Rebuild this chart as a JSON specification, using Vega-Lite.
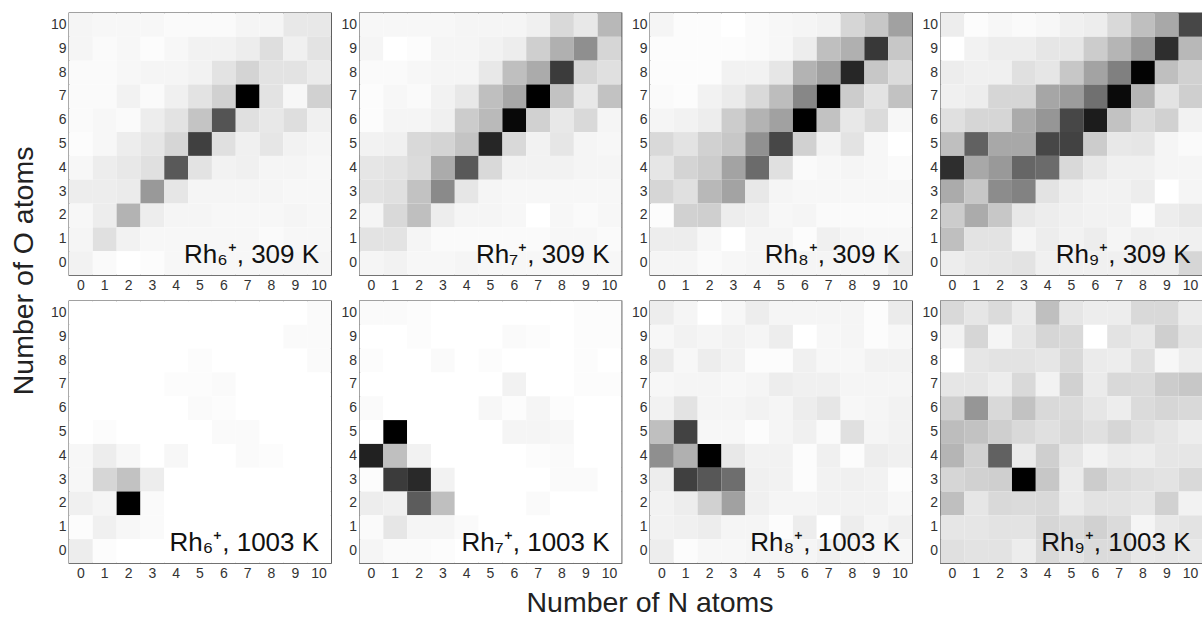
{
"$schema":"https://vega.github.io/schema/vega-lite/v6.json",
"padding":{"left":10,"top":12,"right":0,"bottom":0},
"background":"white",
"title":{"text":"Number of O atoms","orient":"left","anchor":"middle","dx":44,"offset":11,"font":"Liberation Sans","fontSize":28.5,"fontWeight":"normal","color":"#222"},
"data":{"values":[
{"R":"Rh6","T":"309 K","O":10,"N":0,"d":4},{"R":"Rh6","T":"309 K","O":10,"N":1,"d":3},{"R":"Rh6","T":"309 K","O":10,"N":2,"d":3},{"R":"Rh6","T":"309 K","O":10,"N":3,"d":3},{"R":"Rh6","T":"309 K","O":10,"N":4,"d":2},{"R":"Rh6","T":"309 K","O":10,"N":5,"d":2},{"R":"Rh6","T":"309 K","O":10,"N":6,"d":2},{"R":"Rh6","T":"309 K","O":10,"N":7,"d":4},{"R":"Rh6","T":"309 K","O":10,"N":8,"d":4},{"R":"Rh6","T":"309 K","O":10,"N":9,"d":9},{"R":"Rh6","T":"309 K","O":10,"N":10,"d":9},
{"R":"Rh6","T":"309 K","O":9,"N":0,"d":4},{"R":"Rh6","T":"309 K","O":9,"N":1,"d":2},{"R":"Rh6","T":"309 K","O":9,"N":2,"d":3},{"R":"Rh6","T":"309 K","O":9,"N":3,"d":1},{"R":"Rh6","T":"309 K","O":9,"N":4,"d":3},{"R":"Rh6","T":"309 K","O":9,"N":5,"d":5},{"R":"Rh6","T":"309 K","O":9,"N":6,"d":5},{"R":"Rh6","T":"309 K","O":9,"N":7,"d":7},{"R":"Rh6","T":"309 K","O":9,"N":8,"d":13},{"R":"Rh6","T":"309 K","O":9,"N":9,"d":6},{"R":"Rh6","T":"309 K","O":9,"N":10,"d":11},
{"R":"Rh6","T":"309 K","O":8,"N":0,"d":2},{"R":"Rh6","T":"309 K","O":8,"N":1,"d":2},{"R":"Rh6","T":"309 K","O":8,"N":2,"d":3},{"R":"Rh6","T":"309 K","O":8,"N":3,"d":4},{"R":"Rh6","T":"309 K","O":8,"N":4,"d":4},{"R":"Rh6","T":"309 K","O":8,"N":5,"d":5},{"R":"Rh6","T":"309 K","O":8,"N":6,"d":11},{"R":"Rh6","T":"309 K","O":8,"N":7,"d":17},{"R":"Rh6","T":"309 K","O":8,"N":8,"d":11},{"R":"Rh6","T":"309 K","O":8,"N":9,"d":11},{"R":"Rh6","T":"309 K","O":8,"N":10,"d":8},
{"R":"Rh6","T":"309 K","O":7,"N":0,"d":2},{"R":"Rh6","T":"309 K","O":7,"N":1,"d":2},{"R":"Rh6","T":"309 K","O":7,"N":2,"d":5},{"R":"Rh6","T":"309 K","O":7,"N":3,"d":2},{"R":"Rh6","T":"309 K","O":7,"N":4,"d":6},{"R":"Rh6","T":"309 K","O":7,"N":5,"d":11},{"R":"Rh6","T":"309 K","O":7,"N":6,"d":18},{"R":"Rh6","T":"309 K","O":7,"N":7,"d":100},{"R":"Rh6","T":"309 K","O":7,"N":8,"d":11},{"R":"Rh6","T":"309 K","O":7,"N":9,"d":3},{"R":"Rh6","T":"309 K","O":7,"N":10,"d":18},
{"R":"Rh6","T":"309 K","O":6,"N":0,"d":2},{"R":"Rh6","T":"309 K","O":6,"N":1,"d":3},{"R":"Rh6","T":"309 K","O":6,"N":2,"d":2},{"R":"Rh6","T":"309 K","O":6,"N":3,"d":7},{"R":"Rh6","T":"309 K","O":6,"N":4,"d":11},{"R":"Rh6","T":"309 K","O":6,"N":5,"d":23},{"R":"Rh6","T":"309 K","O":6,"N":6,"d":67},{"R":"Rh6","T":"309 K","O":6,"N":7,"d":12},{"R":"Rh6","T":"309 K","O":6,"N":8,"d":9},{"R":"Rh6","T":"309 K","O":6,"N":9,"d":13},{"R":"Rh6","T":"309 K","O":6,"N":10,"d":6},
{"R":"Rh6","T":"309 K","O":5,"N":0,"d":1},{"R":"Rh6","T":"309 K","O":5,"N":1,"d":3},{"R":"Rh6","T":"309 K","O":5,"N":2,"d":7},{"R":"Rh6","T":"309 K","O":5,"N":3,"d":10},{"R":"Rh6","T":"309 K","O":5,"N":4,"d":16},{"R":"Rh6","T":"309 K","O":5,"N":5,"d":75},{"R":"Rh6","T":"309 K","O":5,"N":6,"d":12},{"R":"Rh6","T":"309 K","O":5,"N":7,"d":6},{"R":"Rh6","T":"309 K","O":5,"N":8,"d":10},{"R":"Rh6","T":"309 K","O":5,"N":9,"d":5},{"R":"Rh6","T":"309 K","O":5,"N":10,"d":4},
{"R":"Rh6","T":"309 K","O":4,"N":0,"d":3},{"R":"Rh6","T":"309 K","O":4,"N":1,"d":7},{"R":"Rh6","T":"309 K","O":4,"N":2,"d":9},{"R":"Rh6","T":"309 K","O":4,"N":3,"d":12},{"R":"Rh6","T":"309 K","O":4,"N":4,"d":65},{"R":"Rh6","T":"309 K","O":4,"N":5,"d":11},{"R":"Rh6","T":"309 K","O":4,"N":6,"d":5},{"R":"Rh6","T":"309 K","O":4,"N":7,"d":6},{"R":"Rh6","T":"309 K","O":4,"N":8,"d":4},{"R":"Rh6","T":"309 K","O":4,"N":9,"d":4},{"R":"Rh6","T":"309 K","O":4,"N":10,"d":3},
{"R":"Rh6","T":"309 K","O":3,"N":0,"d":7},{"R":"Rh6","T":"309 K","O":3,"N":1,"d":7},{"R":"Rh6","T":"309 K","O":3,"N":2,"d":8},{"R":"Rh6","T":"309 K","O":3,"N":3,"d":40},{"R":"Rh6","T":"309 K","O":3,"N":4,"d":10},{"R":"Rh6","T":"309 K","O":3,"N":5,"d":4},{"R":"Rh6","T":"309 K","O":3,"N":6,"d":4},{"R":"Rh6","T":"309 K","O":3,"N":7,"d":4},{"R":"Rh6","T":"309 K","O":3,"N":8,"d":4},{"R":"Rh6","T":"309 K","O":3,"N":9,"d":3},{"R":"Rh6","T":"309 K","O":3,"N":10,"d":3},
{"R":"Rh6","T":"309 K","O":2,"N":0,"d":3},{"R":"Rh6","T":"309 K","O":2,"N":1,"d":7},{"R":"Rh6","T":"309 K","O":2,"N":2,"d":30},{"R":"Rh6","T":"309 K","O":2,"N":3,"d":7},{"R":"Rh6","T":"309 K","O":2,"N":4,"d":4},{"R":"Rh6","T":"309 K","O":2,"N":5,"d":4},{"R":"Rh6","T":"309 K","O":2,"N":6,"d":3},{"R":"Rh6","T":"309 K","O":2,"N":7,"d":3},{"R":"Rh6","T":"309 K","O":2,"N":8,"d":3},{"R":"Rh6","T":"309 K","O":2,"N":9,"d":4},{"R":"Rh6","T":"309 K","O":2,"N":10,"d":3},
{"R":"Rh6","T":"309 K","O":1,"N":0,"d":4},{"R":"Rh6","T":"309 K","O":1,"N":1,"d":12},{"R":"Rh6","T":"309 K","O":1,"N":2,"d":5},{"R":"Rh6","T":"309 K","O":1,"N":3,"d":3},{"R":"Rh6","T":"309 K","O":1,"N":4,"d":3},{"R":"Rh6","T":"309 K","O":1,"N":5,"d":3},{"R":"Rh6","T":"309 K","O":1,"N":6,"d":3},{"R":"Rh6","T":"309 K","O":1,"N":7,"d":3},{"R":"Rh6","T":"309 K","O":1,"N":8,"d":2},{"R":"Rh6","T":"309 K","O":1,"N":9,"d":3},{"R":"Rh6","T":"309 K","O":1,"N":10,"d":3},
{"R":"Rh6","T":"309 K","O":0,"N":0,"d":5},{"R":"Rh6","T":"309 K","O":0,"N":1,"d":2},{"R":"Rh6","T":"309 K","O":0,"N":2,"d":0},{"R":"Rh6","T":"309 K","O":0,"N":3,"d":1},{"R":"Rh6","T":"309 K","O":0,"N":4,"d":3},{"R":"Rh6","T":"309 K","O":0,"N":5,"d":3},{"R":"Rh6","T":"309 K","O":0,"N":6,"d":3},{"R":"Rh6","T":"309 K","O":0,"N":7,"d":3},{"R":"Rh6","T":"309 K","O":0,"N":8,"d":4},{"R":"Rh6","T":"309 K","O":0,"N":9,"d":4},{"R":"Rh6","T":"309 K","O":0,"N":10,"d":4},
{"R":"Rh7","T":"309 K","O":10,"N":0,"d":3},{"R":"Rh7","T":"309 K","O":10,"N":1,"d":3},{"R":"Rh7","T":"309 K","O":10,"N":2,"d":3},{"R":"Rh7","T":"309 K","O":10,"N":3,"d":3},{"R":"Rh7","T":"309 K","O":10,"N":4,"d":4},{"R":"Rh7","T":"309 K","O":10,"N":5,"d":4},{"R":"Rh7","T":"309 K","O":10,"N":6,"d":4},{"R":"Rh7","T":"309 K","O":10,"N":7,"d":6},{"R":"Rh7","T":"309 K","O":10,"N":8,"d":15},{"R":"Rh7","T":"309 K","O":10,"N":9,"d":9},{"R":"Rh7","T":"309 K","O":10,"N":10,"d":28},
{"R":"Rh7","T":"309 K","O":9,"N":0,"d":4},{"R":"Rh7","T":"309 K","O":9,"N":1,"d":0},{"R":"Rh7","T":"309 K","O":9,"N":2,"d":1},{"R":"Rh7","T":"309 K","O":9,"N":3,"d":4},{"R":"Rh7","T":"309 K","O":9,"N":4,"d":4},{"R":"Rh7","T":"309 K","O":9,"N":5,"d":5},{"R":"Rh7","T":"309 K","O":9,"N":6,"d":7},{"R":"Rh7","T":"309 K","O":9,"N":7,"d":19},{"R":"Rh7","T":"309 K","O":9,"N":8,"d":31},{"R":"Rh7","T":"309 K","O":9,"N":9,"d":44},{"R":"Rh7","T":"309 K","O":9,"N":10,"d":16},
{"R":"Rh7","T":"309 K","O":8,"N":0,"d":2},{"R":"Rh7","T":"309 K","O":8,"N":1,"d":2},{"R":"Rh7","T":"309 K","O":8,"N":2,"d":3},{"R":"Rh7","T":"309 K","O":8,"N":3,"d":4},{"R":"Rh7","T":"309 K","O":8,"N":4,"d":4},{"R":"Rh7","T":"309 K","O":8,"N":5,"d":9},{"R":"Rh7","T":"309 K","O":8,"N":6,"d":25},{"R":"Rh7","T":"309 K","O":8,"N":7,"d":33},{"R":"Rh7","T":"309 K","O":8,"N":8,"d":77},{"R":"Rh7","T":"309 K","O":8,"N":9,"d":16},{"R":"Rh7","T":"309 K","O":8,"N":10,"d":12},
{"R":"Rh7","T":"309 K","O":7,"N":0,"d":1},{"R":"Rh7","T":"309 K","O":7,"N":1,"d":3},{"R":"Rh7","T":"309 K","O":7,"N":2,"d":2},{"R":"Rh7","T":"309 K","O":7,"N":3,"d":5},{"R":"Rh7","T":"309 K","O":7,"N":4,"d":9},{"R":"Rh7","T":"309 K","O":7,"N":5,"d":25},{"R":"Rh7","T":"309 K","O":7,"N":6,"d":34},{"R":"Rh7","T":"309 K","O":7,"N":7,"d":100},{"R":"Rh7","T":"309 K","O":7,"N":8,"d":24},{"R":"Rh7","T":"309 K","O":7,"N":9,"d":9},{"R":"Rh7","T":"309 K","O":7,"N":10,"d":24},
{"R":"Rh7","T":"309 K","O":6,"N":0,"d":1},{"R":"Rh7","T":"309 K","O":6,"N":1,"d":4},{"R":"Rh7","T":"309 K","O":6,"N":2,"d":4},{"R":"Rh7","T":"309 K","O":6,"N":3,"d":6},{"R":"Rh7","T":"309 K","O":6,"N":4,"d":20},{"R":"Rh7","T":"309 K","O":6,"N":5,"d":27},{"R":"Rh7","T":"309 K","O":6,"N":6,"d":97},{"R":"Rh7","T":"309 K","O":6,"N":7,"d":18},{"R":"Rh7","T":"309 K","O":6,"N":8,"d":9},{"R":"Rh7","T":"309 K","O":6,"N":9,"d":15},{"R":"Rh7","T":"309 K","O":6,"N":10,"d":4},
{"R":"Rh7","T":"309 K","O":5,"N":0,"d":5},{"R":"Rh7","T":"309 K","O":5,"N":1,"d":6},{"R":"Rh7","T":"309 K","O":5,"N":2,"d":15},{"R":"Rh7","T":"309 K","O":5,"N":3,"d":17},{"R":"Rh7","T":"309 K","O":5,"N":4,"d":23},{"R":"Rh7","T":"309 K","O":5,"N":5,"d":85},{"R":"Rh7","T":"309 K","O":5,"N":6,"d":15},{"R":"Rh7","T":"309 K","O":5,"N":7,"d":5},{"R":"Rh7","T":"309 K","O":5,"N":8,"d":10},{"R":"Rh7","T":"309 K","O":5,"N":9,"d":4},{"R":"Rh7","T":"309 K","O":5,"N":10,"d":3},
{"R":"Rh7","T":"309 K","O":4,"N":0,"d":10},{"R":"Rh7","T":"309 K","O":4,"N":1,"d":11},{"R":"Rh7","T":"309 K","O":4,"N":2,"d":14},{"R":"Rh7","T":"309 K","O":4,"N":3,"d":33},{"R":"Rh7","T":"309 K","O":4,"N":4,"d":65},{"R":"Rh7","T":"309 K","O":4,"N":5,"d":15},{"R":"Rh7","T":"309 K","O":4,"N":6,"d":5},{"R":"Rh7","T":"309 K","O":4,"N":7,"d":5},{"R":"Rh7","T":"309 K","O":4,"N":8,"d":5},{"R":"Rh7","T":"309 K","O":4,"N":9,"d":4},{"R":"Rh7","T":"309 K","O":4,"N":10,"d":4},
{"R":"Rh7","T":"309 K","O":3,"N":0,"d":11},{"R":"Rh7","T":"309 K","O":3,"N":1,"d":12},{"R":"Rh7","T":"309 K","O":3,"N":2,"d":24},{"R":"Rh7","T":"309 K","O":3,"N":3,"d":46},{"R":"Rh7","T":"309 K","O":3,"N":4,"d":10},{"R":"Rh7","T":"309 K","O":3,"N":5,"d":4},{"R":"Rh7","T":"309 K","O":3,"N":6,"d":3},{"R":"Rh7","T":"309 K","O":3,"N":7,"d":3},{"R":"Rh7","T":"309 K","O":3,"N":8,"d":3},{"R":"Rh7","T":"309 K","O":3,"N":9,"d":3},{"R":"Rh7","T":"309 K","O":3,"N":10,"d":3},
{"R":"Rh7","T":"309 K","O":2,"N":0,"d":4},{"R":"Rh7","T":"309 K","O":2,"N":1,"d":15},{"R":"Rh7","T":"309 K","O":2,"N":2,"d":25},{"R":"Rh7","T":"309 K","O":2,"N":3,"d":7},{"R":"Rh7","T":"309 K","O":2,"N":4,"d":4},{"R":"Rh7","T":"309 K","O":2,"N":5,"d":4},{"R":"Rh7","T":"309 K","O":2,"N":6,"d":3},{"R":"Rh7","T":"309 K","O":2,"N":7,"d":0},{"R":"Rh7","T":"309 K","O":2,"N":8,"d":3},{"R":"Rh7","T":"309 K","O":2,"N":9,"d":2},{"R":"Rh7","T":"309 K","O":2,"N":10,"d":3},
{"R":"Rh7","T":"309 K","O":1,"N":0,"d":11},{"R":"Rh7","T":"309 K","O":1,"N":1,"d":11},{"R":"Rh7","T":"309 K","O":1,"N":2,"d":4},{"R":"Rh7","T":"309 K","O":1,"N":3,"d":2},{"R":"Rh7","T":"309 K","O":1,"N":4,"d":2},{"R":"Rh7","T":"309 K","O":1,"N":5,"d":2},{"R":"Rh7","T":"309 K","O":1,"N":6,"d":2},{"R":"Rh7","T":"309 K","O":1,"N":7,"d":2},{"R":"Rh7","T":"309 K","O":1,"N":8,"d":3},{"R":"Rh7","T":"309 K","O":1,"N":9,"d":3},{"R":"Rh7","T":"309 K","O":1,"N":10,"d":2},
{"R":"Rh7","T":"309 K","O":0,"N":0,"d":4},{"R":"Rh7","T":"309 K","O":0,"N":1,"d":5},{"R":"Rh7","T":"309 K","O":0,"N":2,"d":3},{"R":"Rh7","T":"309 K","O":0,"N":3,"d":3},{"R":"Rh7","T":"309 K","O":0,"N":4,"d":4},{"R":"Rh7","T":"309 K","O":0,"N":5,"d":3},{"R":"Rh7","T":"309 K","O":0,"N":6,"d":3},{"R":"Rh7","T":"309 K","O":0,"N":7,"d":3},{"R":"Rh7","T":"309 K","O":0,"N":8,"d":3},{"R":"Rh7","T":"309 K","O":0,"N":9,"d":3},{"R":"Rh7","T":"309 K","O":0,"N":10,"d":3},
{"R":"Rh8","T":"309 K","O":10,"N":0,"d":4},{"R":"Rh8","T":"309 K","O":10,"N":1,"d":1},{"R":"Rh8","T":"309 K","O":10,"N":2,"d":1},{"R":"Rh8","T":"309 K","O":10,"N":3,"d":0},{"R":"Rh8","T":"309 K","O":10,"N":4,"d":2},{"R":"Rh8","T":"309 K","O":10,"N":5,"d":3},{"R":"Rh8","T":"309 K","O":10,"N":6,"d":4},{"R":"Rh8","T":"309 K","O":10,"N":7,"d":5},{"R":"Rh8","T":"309 K","O":10,"N":8,"d":16},{"R":"Rh8","T":"309 K","O":10,"N":9,"d":22},{"R":"Rh8","T":"309 K","O":10,"N":10,"d":37},
{"R":"Rh8","T":"309 K","O":9,"N":0,"d":1},{"R":"Rh8","T":"309 K","O":9,"N":1,"d":1},{"R":"Rh8","T":"309 K","O":9,"N":2,"d":1},{"R":"Rh8","T":"309 K","O":9,"N":3,"d":1},{"R":"Rh8","T":"309 K","O":9,"N":4,"d":2},{"R":"Rh8","T":"309 K","O":9,"N":5,"d":3},{"R":"Rh8","T":"309 K","O":9,"N":6,"d":7},{"R":"Rh8","T":"309 K","O":9,"N":7,"d":25},{"R":"Rh8","T":"309 K","O":9,"N":8,"d":31},{"R":"Rh8","T":"309 K","O":9,"N":9,"d":78},{"R":"Rh8","T":"309 K","O":9,"N":10,"d":22},
{"R":"Rh8","T":"309 K","O":8,"N":0,"d":1},{"R":"Rh8","T":"309 K","O":8,"N":1,"d":1},{"R":"Rh8","T":"309 K","O":8,"N":2,"d":1},{"R":"Rh8","T":"309 K","O":8,"N":3,"d":5},{"R":"Rh8","T":"309 K","O":8,"N":4,"d":5},{"R":"Rh8","T":"309 K","O":8,"N":5,"d":10},{"R":"Rh8","T":"309 K","O":8,"N":6,"d":30},{"R":"Rh8","T":"309 K","O":8,"N":7,"d":37},{"R":"Rh8","T":"309 K","O":8,"N":8,"d":85},{"R":"Rh8","T":"309 K","O":8,"N":9,"d":22},{"R":"Rh8","T":"309 K","O":8,"N":10,"d":14},
{"R":"Rh8","T":"309 K","O":7,"N":0,"d":2},{"R":"Rh8","T":"309 K","O":7,"N":1,"d":1},{"R":"Rh8","T":"309 K","O":7,"N":2,"d":5},{"R":"Rh8","T":"309 K","O":7,"N":3,"d":8},{"R":"Rh8","T":"309 K","O":7,"N":4,"d":15},{"R":"Rh8","T":"309 K","O":7,"N":5,"d":26},{"R":"Rh8","T":"309 K","O":7,"N":6,"d":47},{"R":"Rh8","T":"309 K","O":7,"N":7,"d":100},{"R":"Rh8","T":"309 K","O":7,"N":8,"d":20},{"R":"Rh8","T":"309 K","O":7,"N":9,"d":11},{"R":"Rh8","T":"309 K","O":7,"N":10,"d":24},
{"R":"Rh8","T":"309 K","O":6,"N":0,"d":4},{"R":"Rh8","T":"309 K","O":6,"N":1,"d":5},{"R":"Rh8","T":"309 K","O":6,"N":2,"d":7},{"R":"Rh8","T":"309 K","O":6,"N":3,"d":20},{"R":"Rh8","T":"309 K","O":6,"N":4,"d":30},{"R":"Rh8","T":"309 K","O":6,"N":5,"d":37},{"R":"Rh8","T":"309 K","O":6,"N":6,"d":100},{"R":"Rh8","T":"309 K","O":6,"N":7,"d":24},{"R":"Rh8","T":"309 K","O":6,"N":8,"d":9},{"R":"Rh8","T":"309 K","O":6,"N":9,"d":14},{"R":"Rh8","T":"309 K","O":6,"N":10,"d":3},
{"R":"Rh8","T":"309 K","O":5,"N":0,"d":15},{"R":"Rh8","T":"309 K","O":5,"N":1,"d":11},{"R":"Rh8","T":"309 K","O":5,"N":2,"d":18},{"R":"Rh8","T":"309 K","O":5,"N":3,"d":22},{"R":"Rh8","T":"309 K","O":5,"N":4,"d":43},{"R":"Rh8","T":"309 K","O":5,"N":5,"d":72},{"R":"Rh8","T":"309 K","O":5,"N":6,"d":18},{"R":"Rh8","T":"309 K","O":5,"N":7,"d":5},{"R":"Rh8","T":"309 K","O":5,"N":8,"d":11},{"R":"Rh8","T":"309 K","O":5,"N":9,"d":3},{"R":"Rh8","T":"309 K","O":5,"N":10,"d":0},
{"R":"Rh8","T":"309 K","O":4,"N":0,"d":10},{"R":"Rh8","T":"309 K","O":4,"N":1,"d":17},{"R":"Rh8","T":"309 K","O":4,"N":2,"d":20},{"R":"Rh8","T":"309 K","O":4,"N":3,"d":36},{"R":"Rh8","T":"309 K","O":4,"N":4,"d":58},{"R":"Rh8","T":"309 K","O":4,"N":5,"d":12},{"R":"Rh8","T":"309 K","O":4,"N":6,"d":2},{"R":"Rh8","T":"309 K","O":4,"N":7,"d":3},{"R":"Rh8","T":"309 K","O":4,"N":8,"d":4},{"R":"Rh8","T":"309 K","O":4,"N":9,"d":3},{"R":"Rh8","T":"309 K","O":4,"N":10,"d":2},
{"R":"Rh8","T":"309 K","O":3,"N":0,"d":16},{"R":"Rh8","T":"309 K","O":3,"N":1,"d":12},{"R":"Rh8","T":"309 K","O":3,"N":2,"d":28},{"R":"Rh8","T":"309 K","O":3,"N":3,"d":36},{"R":"Rh8","T":"309 K","O":3,"N":4,"d":9},{"R":"Rh8","T":"309 K","O":3,"N":5,"d":4},{"R":"Rh8","T":"309 K","O":3,"N":6,"d":3},{"R":"Rh8","T":"309 K","O":3,"N":7,"d":3},{"R":"Rh8","T":"309 K","O":3,"N":8,"d":3},{"R":"Rh8","T":"309 K","O":3,"N":9,"d":3},{"R":"Rh8","T":"309 K","O":3,"N":10,"d":3},
{"R":"Rh8","T":"309 K","O":2,"N":0,"d":1},{"R":"Rh8","T":"309 K","O":2,"N":1,"d":18},{"R":"Rh8","T":"309 K","O":2,"N":2,"d":19},{"R":"Rh8","T":"309 K","O":2,"N":3,"d":7},{"R":"Rh8","T":"309 K","O":2,"N":4,"d":6},{"R":"Rh8","T":"309 K","O":2,"N":5,"d":3},{"R":"Rh8","T":"309 K","O":2,"N":6,"d":4},{"R":"Rh8","T":"309 K","O":2,"N":7,"d":2},{"R":"Rh8","T":"309 K","O":2,"N":8,"d":2},{"R":"Rh8","T":"309 K","O":2,"N":9,"d":2},{"R":"Rh8","T":"309 K","O":2,"N":10,"d":2},
{"R":"Rh8","T":"309 K","O":1,"N":0,"d":7},{"R":"Rh8","T":"309 K","O":1,"N":1,"d":7},{"R":"Rh8","T":"309 K","O":1,"N":2,"d":3},{"R":"Rh8","T":"309 K","O":1,"N":3,"d":0},{"R":"Rh8","T":"309 K","O":1,"N":4,"d":4},{"R":"Rh8","T":"309 K","O":1,"N":5,"d":4},{"R":"Rh8","T":"309 K","O":1,"N":6,"d":1},{"R":"Rh8","T":"309 K","O":1,"N":7,"d":6},{"R":"Rh8","T":"309 K","O":1,"N":8,"d":4},{"R":"Rh8","T":"309 K","O":1,"N":9,"d":3},{"R":"Rh8","T":"309 K","O":1,"N":10,"d":3},
{"R":"Rh8","T":"309 K","O":0,"N":0,"d":4},{"R":"Rh8","T":"309 K","O":0,"N":1,"d":4},{"R":"Rh8","T":"309 K","O":0,"N":2,"d":2},{"R":"Rh8","T":"309 K","O":0,"N":3,"d":3},{"R":"Rh8","T":"309 K","O":0,"N":4,"d":4},{"R":"Rh8","T":"309 K","O":0,"N":5,"d":4},{"R":"Rh8","T":"309 K","O":0,"N":6,"d":4},{"R":"Rh8","T":"309 K","O":0,"N":7,"d":4},{"R":"Rh8","T":"309 K","O":0,"N":8,"d":4},{"R":"Rh8","T":"309 K","O":0,"N":9,"d":4},{"R":"Rh8","T":"309 K","O":0,"N":10,"d":8},
{"R":"Rh9","T":"309 K","O":10,"N":0,"d":7},{"R":"Rh9","T":"309 K","O":10,"N":1,"d":1},{"R":"Rh9","T":"309 K","O":10,"N":2,"d":3},{"R":"Rh9","T":"309 K","O":10,"N":3,"d":2},{"R":"Rh9","T":"309 K","O":10,"N":4,"d":3},{"R":"Rh9","T":"309 K","O":10,"N":5,"d":6},{"R":"Rh9","T":"309 K","O":10,"N":6,"d":7},{"R":"Rh9","T":"309 K","O":10,"N":7,"d":15},{"R":"Rh9","T":"309 K","O":10,"N":8,"d":25},{"R":"Rh9","T":"309 K","O":10,"N":9,"d":34},{"R":"Rh9","T":"309 K","O":10,"N":10,"d":72},
{"R":"Rh9","T":"309 K","O":9,"N":0,"d":0},{"R":"Rh9","T":"309 K","O":9,"N":1,"d":5},{"R":"Rh9","T":"309 K","O":9,"N":2,"d":7},{"R":"Rh9","T":"309 K","O":9,"N":3,"d":7},{"R":"Rh9","T":"309 K","O":9,"N":4,"d":10},{"R":"Rh9","T":"309 K","O":9,"N":5,"d":10},{"R":"Rh9","T":"309 K","O":9,"N":6,"d":20},{"R":"Rh9","T":"309 K","O":9,"N":7,"d":29},{"R":"Rh9","T":"309 K","O":9,"N":8,"d":40},{"R":"Rh9","T":"309 K","O":9,"N":9,"d":82},{"R":"Rh9","T":"309 K","O":9,"N":10,"d":28},
{"R":"Rh9","T":"309 K","O":8,"N":0,"d":7},{"R":"Rh9","T":"309 K","O":8,"N":1,"d":6},{"R":"Rh9","T":"309 K","O":8,"N":2,"d":6},{"R":"Rh9","T":"309 K","O":8,"N":3,"d":12},{"R":"Rh9","T":"309 K","O":8,"N":4,"d":10},{"R":"Rh9","T":"309 K","O":8,"N":5,"d":22},{"R":"Rh9","T":"309 K","O":8,"N":6,"d":36},{"R":"Rh9","T":"309 K","O":8,"N":7,"d":50},{"R":"Rh9","T":"309 K","O":8,"N":8,"d":99},{"R":"Rh9","T":"309 K","O":8,"N":9,"d":25},{"R":"Rh9","T":"309 K","O":8,"N":10,"d":18},
{"R":"Rh9","T":"309 K","O":7,"N":0,"d":6},{"R":"Rh9","T":"309 K","O":7,"N":1,"d":7},{"R":"Rh9","T":"309 K","O":7,"N":2,"d":16},{"R":"Rh9","T":"309 K","O":7,"N":3,"d":16},{"R":"Rh9","T":"309 K","O":7,"N":4,"d":35},{"R":"Rh9","T":"309 K","O":7,"N":5,"d":39},{"R":"Rh9","T":"309 K","O":7,"N":6,"d":56},{"R":"Rh9","T":"309 K","O":7,"N":7,"d":96},{"R":"Rh9","T":"309 K","O":7,"N":8,"d":29},{"R":"Rh9","T":"309 K","O":7,"N":9,"d":11},{"R":"Rh9","T":"309 K","O":7,"N":10,"d":19},
{"R":"Rh9","T":"309 K","O":6,"N":0,"d":12},{"R":"Rh9","T":"309 K","O":6,"N":1,"d":16},{"R":"Rh9","T":"309 K","O":6,"N":2,"d":16},{"R":"Rh9","T":"309 K","O":6,"N":3,"d":33},{"R":"Rh9","T":"309 K","O":6,"N":4,"d":41},{"R":"Rh9","T":"309 K","O":6,"N":5,"d":72},{"R":"Rh9","T":"309 K","O":6,"N":6,"d":89},{"R":"Rh9","T":"309 K","O":6,"N":7,"d":24},{"R":"Rh9","T":"309 K","O":6,"N":8,"d":14},{"R":"Rh9","T":"309 K","O":6,"N":9,"d":18},{"R":"Rh9","T":"309 K","O":6,"N":10,"d":5},
{"R":"Rh9","T":"309 K","O":5,"N":0,"d":25},{"R":"Rh9","T":"309 K","O":5,"N":1,"d":62},{"R":"Rh9","T":"309 K","O":5,"N":2,"d":34},{"R":"Rh9","T":"309 K","O":5,"N":3,"d":34},{"R":"Rh9","T":"309 K","O":5,"N":4,"d":72},{"R":"Rh9","T":"309 K","O":5,"N":5,"d":74},{"R":"Rh9","T":"309 K","O":5,"N":6,"d":20},{"R":"Rh9","T":"309 K","O":5,"N":7,"d":9},{"R":"Rh9","T":"309 K","O":5,"N":8,"d":10},{"R":"Rh9","T":"309 K","O":5,"N":9,"d":4},{"R":"Rh9","T":"309 K","O":5,"N":10,"d":2},
{"R":"Rh9","T":"309 K","O":4,"N":0,"d":82},{"R":"Rh9","T":"309 K","O":4,"N":1,"d":34},{"R":"Rh9","T":"309 K","O":4,"N":2,"d":40},{"R":"Rh9","T":"309 K","O":4,"N":3,"d":60},{"R":"Rh9","T":"309 K","O":4,"N":4,"d":58},{"R":"Rh9","T":"309 K","O":4,"N":5,"d":15},{"R":"Rh9","T":"309 K","O":4,"N":6,"d":9},{"R":"Rh9","T":"309 K","O":4,"N":7,"d":6},{"R":"Rh9","T":"309 K","O":4,"N":8,"d":6},{"R":"Rh9","T":"309 K","O":4,"N":9,"d":4},{"R":"Rh9","T":"309 K","O":4,"N":10,"d":4},
{"R":"Rh9","T":"309 K","O":3,"N":0,"d":33},{"R":"Rh9","T":"309 K","O":3,"N":1,"d":22},{"R":"Rh9","T":"309 K","O":3,"N":2,"d":45},{"R":"Rh9","T":"309 K","O":3,"N":3,"d":49},{"R":"Rh9","T":"309 K","O":3,"N":4,"d":11},{"R":"Rh9","T":"309 K","O":3,"N":5,"d":7},{"R":"Rh9","T":"309 K","O":3,"N":6,"d":5},{"R":"Rh9","T":"309 K","O":3,"N":7,"d":5},{"R":"Rh9","T":"309 K","O":3,"N":8,"d":7},{"R":"Rh9","T":"309 K","O":3,"N":9,"d":0},{"R":"Rh9","T":"309 K","O":3,"N":10,"d":4},
{"R":"Rh9","T":"309 K","O":2,"N":0,"d":20},{"R":"Rh9","T":"309 K","O":2,"N":1,"d":33},{"R":"Rh9","T":"309 K","O":2,"N":2,"d":22},{"R":"Rh9","T":"309 K","O":2,"N":3,"d":9},{"R":"Rh9","T":"309 K","O":2,"N":4,"d":7},{"R":"Rh9","T":"309 K","O":2,"N":5,"d":6},{"R":"Rh9","T":"309 K","O":2,"N":6,"d":5},{"R":"Rh9","T":"309 K","O":2,"N":7,"d":5},{"R":"Rh9","T":"309 K","O":2,"N":8,"d":1},{"R":"Rh9","T":"309 K","O":2,"N":9,"d":7},{"R":"Rh9","T":"309 K","O":2,"N":10,"d":9},
{"R":"Rh9","T":"309 K","O":1,"N":0,"d":25},{"R":"Rh9","T":"309 K","O":1,"N":1,"d":11},{"R":"Rh9","T":"309 K","O":1,"N":2,"d":11},{"R":"Rh9","T":"309 K","O":1,"N":3,"d":4},{"R":"Rh9","T":"309 K","O":1,"N":4,"d":7},{"R":"Rh9","T":"309 K","O":1,"N":5,"d":5},{"R":"Rh9","T":"309 K","O":1,"N":6,"d":7},{"R":"Rh9","T":"309 K","O":1,"N":7,"d":4},{"R":"Rh9","T":"309 K","O":1,"N":8,"d":6},{"R":"Rh9","T":"309 K","O":1,"N":9,"d":5},{"R":"Rh9","T":"309 K","O":1,"N":10,"d":6},
{"R":"Rh9","T":"309 K","O":0,"N":0,"d":7},{"R":"Rh9","T":"309 K","O":0,"N":1,"d":9},{"R":"Rh9","T":"309 K","O":0,"N":2,"d":10},{"R":"Rh9","T":"309 K","O":0,"N":3,"d":11},{"R":"Rh9","T":"309 K","O":0,"N":4,"d":6},{"R":"Rh9","T":"309 K","O":0,"N":5,"d":6},{"R":"Rh9","T":"309 K","O":0,"N":6,"d":6},{"R":"Rh9","T":"309 K","O":0,"N":7,"d":6},{"R":"Rh9","T":"309 K","O":0,"N":8,"d":7},{"R":"Rh9","T":"309 K","O":0,"N":9,"d":7},{"R":"Rh9","T":"309 K","O":0,"N":10,"d":16},
{"R":"Rh6","T":"1003 K","O":10,"N":0,"d":0},{"R":"Rh6","T":"1003 K","O":10,"N":1,"d":0},{"R":"Rh6","T":"1003 K","O":10,"N":2,"d":0},{"R":"Rh6","T":"1003 K","O":10,"N":3,"d":0},{"R":"Rh6","T":"1003 K","O":10,"N":4,"d":0},{"R":"Rh6","T":"1003 K","O":10,"N":5,"d":0},{"R":"Rh6","T":"1003 K","O":10,"N":6,"d":0},{"R":"Rh6","T":"1003 K","O":10,"N":7,"d":0},{"R":"Rh6","T":"1003 K","O":10,"N":8,"d":0},{"R":"Rh6","T":"1003 K","O":10,"N":9,"d":0},{"R":"Rh6","T":"1003 K","O":10,"N":10,"d":2},
{"R":"Rh6","T":"1003 K","O":9,"N":0,"d":0},{"R":"Rh6","T":"1003 K","O":9,"N":1,"d":0},{"R":"Rh6","T":"1003 K","O":9,"N":2,"d":0},{"R":"Rh6","T":"1003 K","O":9,"N":3,"d":0},{"R":"Rh6","T":"1003 K","O":9,"N":4,"d":0},{"R":"Rh6","T":"1003 K","O":9,"N":5,"d":0},{"R":"Rh6","T":"1003 K","O":9,"N":6,"d":0},{"R":"Rh6","T":"1003 K","O":9,"N":7,"d":0},{"R":"Rh6","T":"1003 K","O":9,"N":8,"d":0},{"R":"Rh6","T":"1003 K","O":9,"N":9,"d":2},{"R":"Rh6","T":"1003 K","O":9,"N":10,"d":2},
{"R":"Rh6","T":"1003 K","O":8,"N":0,"d":0},{"R":"Rh6","T":"1003 K","O":8,"N":1,"d":0},{"R":"Rh6","T":"1003 K","O":8,"N":2,"d":0},{"R":"Rh6","T":"1003 K","O":8,"N":3,"d":0},{"R":"Rh6","T":"1003 K","O":8,"N":4,"d":0},{"R":"Rh6","T":"1003 K","O":8,"N":5,"d":1},{"R":"Rh6","T":"1003 K","O":8,"N":6,"d":0},{"R":"Rh6","T":"1003 K","O":8,"N":7,"d":0},{"R":"Rh6","T":"1003 K","O":8,"N":8,"d":0},{"R":"Rh6","T":"1003 K","O":8,"N":9,"d":0},{"R":"Rh6","T":"1003 K","O":8,"N":10,"d":2},
{"R":"Rh6","T":"1003 K","O":7,"N":0,"d":0},{"R":"Rh6","T":"1003 K","O":7,"N":1,"d":0},{"R":"Rh6","T":"1003 K","O":7,"N":2,"d":0},{"R":"Rh6","T":"1003 K","O":7,"N":3,"d":0},{"R":"Rh6","T":"1003 K","O":7,"N":4,"d":1},{"R":"Rh6","T":"1003 K","O":7,"N":5,"d":1},{"R":"Rh6","T":"1003 K","O":7,"N":6,"d":2},{"R":"Rh6","T":"1003 K","O":7,"N":7,"d":0},{"R":"Rh6","T":"1003 K","O":7,"N":8,"d":0},{"R":"Rh6","T":"1003 K","O":7,"N":9,"d":0},{"R":"Rh6","T":"1003 K","O":7,"N":10,"d":0},
{"R":"Rh6","T":"1003 K","O":6,"N":0,"d":0},{"R":"Rh6","T":"1003 K","O":6,"N":1,"d":0},{"R":"Rh6","T":"1003 K","O":6,"N":2,"d":0},{"R":"Rh6","T":"1003 K","O":6,"N":3,"d":0},{"R":"Rh6","T":"1003 K","O":6,"N":4,"d":0},{"R":"Rh6","T":"1003 K","O":6,"N":5,"d":2},{"R":"Rh6","T":"1003 K","O":6,"N":6,"d":1},{"R":"Rh6","T":"1003 K","O":6,"N":7,"d":0},{"R":"Rh6","T":"1003 K","O":6,"N":8,"d":0},{"R":"Rh6","T":"1003 K","O":6,"N":9,"d":0},{"R":"Rh6","T":"1003 K","O":6,"N":10,"d":0},
{"R":"Rh6","T":"1003 K","O":5,"N":0,"d":0},{"R":"Rh6","T":"1003 K","O":5,"N":1,"d":1},{"R":"Rh6","T":"1003 K","O":5,"N":2,"d":0},{"R":"Rh6","T":"1003 K","O":5,"N":3,"d":0},{"R":"Rh6","T":"1003 K","O":5,"N":4,"d":0},{"R":"Rh6","T":"1003 K","O":5,"N":5,"d":0},{"R":"Rh6","T":"1003 K","O":5,"N":6,"d":2},{"R":"Rh6","T":"1003 K","O":5,"N":7,"d":2},{"R":"Rh6","T":"1003 K","O":5,"N":8,"d":0},{"R":"Rh6","T":"1003 K","O":5,"N":9,"d":0},{"R":"Rh6","T":"1003 K","O":5,"N":10,"d":0},
{"R":"Rh6","T":"1003 K","O":4,"N":0,"d":3},{"R":"Rh6","T":"1003 K","O":4,"N":1,"d":7},{"R":"Rh6","T":"1003 K","O":4,"N":2,"d":3},{"R":"Rh6","T":"1003 K","O":4,"N":3,"d":0},{"R":"Rh6","T":"1003 K","O":4,"N":4,"d":3},{"R":"Rh6","T":"1003 K","O":4,"N":5,"d":0},{"R":"Rh6","T":"1003 K","O":4,"N":6,"d":0},{"R":"Rh6","T":"1003 K","O":4,"N":7,"d":2},{"R":"Rh6","T":"1003 K","O":4,"N":8,"d":1},{"R":"Rh6","T":"1003 K","O":4,"N":9,"d":0},{"R":"Rh6","T":"1003 K","O":4,"N":10,"d":0},
{"R":"Rh6","T":"1003 K","O":3,"N":0,"d":3},{"R":"Rh6","T":"1003 K","O":3,"N":1,"d":16},{"R":"Rh6","T":"1003 K","O":3,"N":2,"d":24},{"R":"Rh6","T":"1003 K","O":3,"N":3,"d":7},{"R":"Rh6","T":"1003 K","O":3,"N":4,"d":0},{"R":"Rh6","T":"1003 K","O":3,"N":5,"d":0},{"R":"Rh6","T":"1003 K","O":3,"N":6,"d":0},{"R":"Rh6","T":"1003 K","O":3,"N":7,"d":0},{"R":"Rh6","T":"1003 K","O":3,"N":8,"d":0},{"R":"Rh6","T":"1003 K","O":3,"N":9,"d":0},{"R":"Rh6","T":"1003 K","O":3,"N":10,"d":0},
{"R":"Rh6","T":"1003 K","O":2,"N":0,"d":6},{"R":"Rh6","T":"1003 K","O":2,"N":1,"d":4},{"R":"Rh6","T":"1003 K","O":2,"N":2,"d":100},{"R":"Rh6","T":"1003 K","O":2,"N":3,"d":2},{"R":"Rh6","T":"1003 K","O":2,"N":4,"d":0},{"R":"Rh6","T":"1003 K","O":2,"N":5,"d":0},{"R":"Rh6","T":"1003 K","O":2,"N":6,"d":0},{"R":"Rh6","T":"1003 K","O":2,"N":7,"d":0},{"R":"Rh6","T":"1003 K","O":2,"N":8,"d":0},{"R":"Rh6","T":"1003 K","O":2,"N":9,"d":0},{"R":"Rh6","T":"1003 K","O":2,"N":10,"d":0},
{"R":"Rh6","T":"1003 K","O":1,"N":0,"d":1},{"R":"Rh6","T":"1003 K","O":1,"N":1,"d":6},{"R":"Rh6","T":"1003 K","O":1,"N":2,"d":3},{"R":"Rh6","T":"1003 K","O":1,"N":3,"d":2},{"R":"Rh6","T":"1003 K","O":1,"N":4,"d":0},{"R":"Rh6","T":"1003 K","O":1,"N":5,"d":0},{"R":"Rh6","T":"1003 K","O":1,"N":6,"d":0},{"R":"Rh6","T":"1003 K","O":1,"N":7,"d":0},{"R":"Rh6","T":"1003 K","O":1,"N":8,"d":0},{"R":"Rh6","T":"1003 K","O":1,"N":9,"d":0},{"R":"Rh6","T":"1003 K","O":1,"N":10,"d":0},
{"R":"Rh6","T":"1003 K","O":0,"N":0,"d":7},{"R":"Rh6","T":"1003 K","O":0,"N":1,"d":1},{"R":"Rh6","T":"1003 K","O":0,"N":2,"d":0},{"R":"Rh6","T":"1003 K","O":0,"N":3,"d":0},{"R":"Rh6","T":"1003 K","O":0,"N":4,"d":0},{"R":"Rh6","T":"1003 K","O":0,"N":5,"d":0},{"R":"Rh6","T":"1003 K","O":0,"N":6,"d":0},{"R":"Rh6","T":"1003 K","O":0,"N":7,"d":0},{"R":"Rh6","T":"1003 K","O":0,"N":8,"d":0},{"R":"Rh6","T":"1003 K","O":0,"N":9,"d":0},{"R":"Rh6","T":"1003 K","O":0,"N":10,"d":0},
{"R":"Rh7","T":"1003 K","O":10,"N":0,"d":2},{"R":"Rh7","T":"1003 K","O":10,"N":1,"d":2},{"R":"Rh7","T":"1003 K","O":10,"N":2,"d":1},{"R":"Rh7","T":"1003 K","O":10,"N":3,"d":0},{"R":"Rh7","T":"1003 K","O":10,"N":4,"d":0},{"R":"Rh7","T":"1003 K","O":10,"N":5,"d":0},{"R":"Rh7","T":"1003 K","O":10,"N":6,"d":0},{"R":"Rh7","T":"1003 K","O":10,"N":7,"d":0},{"R":"Rh7","T":"1003 K","O":10,"N":8,"d":0},{"R":"Rh7","T":"1003 K","O":10,"N":9,"d":1},{"R":"Rh7","T":"1003 K","O":10,"N":10,"d":1},
{"R":"Rh7","T":"1003 K","O":9,"N":0,"d":0},{"R":"Rh7","T":"1003 K","O":9,"N":1,"d":0},{"R":"Rh7","T":"1003 K","O":9,"N":2,"d":1},{"R":"Rh7","T":"1003 K","O":9,"N":3,"d":0},{"R":"Rh7","T":"1003 K","O":9,"N":4,"d":0},{"R":"Rh7","T":"1003 K","O":9,"N":5,"d":0},{"R":"Rh7","T":"1003 K","O":9,"N":6,"d":2},{"R":"Rh7","T":"1003 K","O":9,"N":7,"d":1},{"R":"Rh7","T":"1003 K","O":9,"N":8,"d":0},{"R":"Rh7","T":"1003 K","O":9,"N":9,"d":1},{"R":"Rh7","T":"1003 K","O":9,"N":10,"d":1},
{"R":"Rh7","T":"1003 K","O":8,"N":0,"d":1},{"R":"Rh7","T":"1003 K","O":8,"N":1,"d":0},{"R":"Rh7","T":"1003 K","O":8,"N":2,"d":0},{"R":"Rh7","T":"1003 K","O":8,"N":3,"d":2},{"R":"Rh7","T":"1003 K","O":8,"N":4,"d":0},{"R":"Rh7","T":"1003 K","O":8,"N":5,"d":1},{"R":"Rh7","T":"1003 K","O":8,"N":6,"d":0},{"R":"Rh7","T":"1003 K","O":8,"N":7,"d":0},{"R":"Rh7","T":"1003 K","O":8,"N":8,"d":0},{"R":"Rh7","T":"1003 K","O":8,"N":9,"d":1},{"R":"Rh7","T":"1003 K","O":8,"N":10,"d":0},
{"R":"Rh7","T":"1003 K","O":7,"N":0,"d":0},{"R":"Rh7","T":"1003 K","O":7,"N":1,"d":0},{"R":"Rh7","T":"1003 K","O":7,"N":2,"d":0},{"R":"Rh7","T":"1003 K","O":7,"N":3,"d":0},{"R":"Rh7","T":"1003 K","O":7,"N":4,"d":0},{"R":"Rh7","T":"1003 K","O":7,"N":5,"d":0},{"R":"Rh7","T":"1003 K","O":7,"N":6,"d":5},{"R":"Rh7","T":"1003 K","O":7,"N":7,"d":0},{"R":"Rh7","T":"1003 K","O":7,"N":8,"d":0},{"R":"Rh7","T":"1003 K","O":7,"N":9,"d":1},{"R":"Rh7","T":"1003 K","O":7,"N":10,"d":1},
{"R":"Rh7","T":"1003 K","O":6,"N":0,"d":2},{"R":"Rh7","T":"1003 K","O":6,"N":1,"d":0},{"R":"Rh7","T":"1003 K","O":6,"N":2,"d":0},{"R":"Rh7","T":"1003 K","O":6,"N":3,"d":0},{"R":"Rh7","T":"1003 K","O":6,"N":4,"d":0},{"R":"Rh7","T":"1003 K","O":6,"N":5,"d":3},{"R":"Rh7","T":"1003 K","O":6,"N":6,"d":1},{"R":"Rh7","T":"1003 K","O":6,"N":7,"d":4},{"R":"Rh7","T":"1003 K","O":6,"N":8,"d":1},{"R":"Rh7","T":"1003 K","O":6,"N":9,"d":0},{"R":"Rh7","T":"1003 K","O":6,"N":10,"d":0},
{"R":"Rh7","T":"1003 K","O":5,"N":0,"d":0},{"R":"Rh7","T":"1003 K","O":5,"N":1,"d":100},{"R":"Rh7","T":"1003 K","O":5,"N":2,"d":0},{"R":"Rh7","T":"1003 K","O":5,"N":3,"d":0},{"R":"Rh7","T":"1003 K","O":5,"N":4,"d":0},{"R":"Rh7","T":"1003 K","O":5,"N":5,"d":0},{"R":"Rh7","T":"1003 K","O":5,"N":6,"d":4},{"R":"Rh7","T":"1003 K","O":5,"N":7,"d":4},{"R":"Rh7","T":"1003 K","O":5,"N":8,"d":3},{"R":"Rh7","T":"1003 K","O":5,"N":9,"d":0},{"R":"Rh7","T":"1003 K","O":5,"N":10,"d":0},
{"R":"Rh7","T":"1003 K","O":4,"N":0,"d":87},{"R":"Rh7","T":"1003 K","O":4,"N":1,"d":25},{"R":"Rh7","T":"1003 K","O":4,"N":2,"d":5},{"R":"Rh7","T":"1003 K","O":4,"N":3,"d":0},{"R":"Rh7","T":"1003 K","O":4,"N":4,"d":0},{"R":"Rh7","T":"1003 K","O":4,"N":5,"d":0},{"R":"Rh7","T":"1003 K","O":4,"N":6,"d":0},{"R":"Rh7","T":"1003 K","O":4,"N":7,"d":1},{"R":"Rh7","T":"1003 K","O":4,"N":8,"d":2},{"R":"Rh7","T":"1003 K","O":4,"N":9,"d":0},{"R":"Rh7","T":"1003 K","O":4,"N":10,"d":0},
{"R":"Rh7","T":"1003 K","O":3,"N":0,"d":1},{"R":"Rh7","T":"1003 K","O":3,"N":1,"d":77},{"R":"Rh7","T":"1003 K","O":3,"N":2,"d":84},{"R":"Rh7","T":"1003 K","O":3,"N":3,"d":5},{"R":"Rh7","T":"1003 K","O":3,"N":4,"d":0},{"R":"Rh7","T":"1003 K","O":3,"N":5,"d":0},{"R":"Rh7","T":"1003 K","O":3,"N":6,"d":0},{"R":"Rh7","T":"1003 K","O":3,"N":7,"d":0},{"R":"Rh7","T":"1003 K","O":3,"N":8,"d":2},{"R":"Rh7","T":"1003 K","O":3,"N":9,"d":2},{"R":"Rh7","T":"1003 K","O":3,"N":10,"d":0},
{"R":"Rh7","T":"1003 K","O":2,"N":0,"d":7},{"R":"Rh7","T":"1003 K","O":2,"N":1,"d":6},{"R":"Rh7","T":"1003 K","O":2,"N":2,"d":64},{"R":"Rh7","T":"1003 K","O":2,"N":3,"d":25},{"R":"Rh7","T":"1003 K","O":2,"N":4,"d":0},{"R":"Rh7","T":"1003 K","O":2,"N":5,"d":0},{"R":"Rh7","T":"1003 K","O":2,"N":6,"d":0},{"R":"Rh7","T":"1003 K","O":2,"N":7,"d":2},{"R":"Rh7","T":"1003 K","O":2,"N":8,"d":0},{"R":"Rh7","T":"1003 K","O":2,"N":9,"d":0},{"R":"Rh7","T":"1003 K","O":2,"N":10,"d":0},
{"R":"Rh7","T":"1003 K","O":1,"N":0,"d":2},{"R":"Rh7","T":"1003 K","O":1,"N":1,"d":10},{"R":"Rh7","T":"1003 K","O":1,"N":2,"d":4},{"R":"Rh7","T":"1003 K","O":1,"N":3,"d":4},{"R":"Rh7","T":"1003 K","O":1,"N":4,"d":2},{"R":"Rh7","T":"1003 K","O":1,"N":5,"d":0},{"R":"Rh7","T":"1003 K","O":1,"N":6,"d":0},{"R":"Rh7","T":"1003 K","O":1,"N":7,"d":0},{"R":"Rh7","T":"1003 K","O":1,"N":8,"d":0},{"R":"Rh7","T":"1003 K","O":1,"N":9,"d":0},{"R":"Rh7","T":"1003 K","O":1,"N":10,"d":0},
{"R":"Rh7","T":"1003 K","O":0,"N":0,"d":4},{"R":"Rh7","T":"1003 K","O":0,"N":1,"d":2},{"R":"Rh7","T":"1003 K","O":0,"N":2,"d":2},{"R":"Rh7","T":"1003 K","O":0,"N":3,"d":1},{"R":"Rh7","T":"1003 K","O":0,"N":4,"d":0},{"R":"Rh7","T":"1003 K","O":0,"N":5,"d":0},{"R":"Rh7","T":"1003 K","O":0,"N":6,"d":0},{"R":"Rh7","T":"1003 K","O":0,"N":7,"d":0},{"R":"Rh7","T":"1003 K","O":0,"N":8,"d":0},{"R":"Rh7","T":"1003 K","O":0,"N":9,"d":0},{"R":"Rh7","T":"1003 K","O":0,"N":10,"d":0},
{"R":"Rh8","T":"1003 K","O":10,"N":0,"d":7},{"R":"Rh8","T":"1003 K","O":10,"N":1,"d":4},{"R":"Rh8","T":"1003 K","O":10,"N":2,"d":0},{"R":"Rh8","T":"1003 K","O":10,"N":3,"d":3},{"R":"Rh8","T":"1003 K","O":10,"N":4,"d":7},{"R":"Rh8","T":"1003 K","O":10,"N":5,"d":4},{"R":"Rh8","T":"1003 K","O":10,"N":6,"d":4},{"R":"Rh8","T":"1003 K","O":10,"N":7,"d":4},{"R":"Rh8","T":"1003 K","O":10,"N":8,"d":4},{"R":"Rh8","T":"1003 K","O":10,"N":9,"d":1},{"R":"Rh8","T":"1003 K","O":10,"N":10,"d":8},
{"R":"Rh8","T":"1003 K","O":9,"N":0,"d":3},{"R":"Rh8","T":"1003 K","O":9,"N":1,"d":5},{"R":"Rh8","T":"1003 K","O":9,"N":2,"d":4},{"R":"Rh8","T":"1003 K","O":9,"N":3,"d":5},{"R":"Rh8","T":"1003 K","O":9,"N":4,"d":4},{"R":"Rh8","T":"1003 K","O":9,"N":5,"d":7},{"R":"Rh8","T":"1003 K","O":9,"N":6,"d":0},{"R":"Rh8","T":"1003 K","O":9,"N":7,"d":3},{"R":"Rh8","T":"1003 K","O":9,"N":8,"d":4},{"R":"Rh8","T":"1003 K","O":9,"N":9,"d":1},{"R":"Rh8","T":"1003 K","O":9,"N":10,"d":3},
{"R":"Rh8","T":"1003 K","O":8,"N":0,"d":8},{"R":"Rh8","T":"1003 K","O":8,"N":1,"d":3},{"R":"Rh8","T":"1003 K","O":8,"N":2,"d":7},{"R":"Rh8","T":"1003 K","O":8,"N":3,"d":5},{"R":"Rh8","T":"1003 K","O":8,"N":4,"d":1},{"R":"Rh8","T":"1003 K","O":8,"N":5,"d":1},{"R":"Rh8","T":"1003 K","O":8,"N":6,"d":6},{"R":"Rh8","T":"1003 K","O":8,"N":7,"d":3},{"R":"Rh8","T":"1003 K","O":8,"N":8,"d":3},{"R":"Rh8","T":"1003 K","O":8,"N":9,"d":5},{"R":"Rh8","T":"1003 K","O":8,"N":10,"d":5},
{"R":"Rh8","T":"1003 K","O":7,"N":0,"d":3},{"R":"Rh8","T":"1003 K","O":7,"N":1,"d":4},{"R":"Rh8","T":"1003 K","O":7,"N":2,"d":4},{"R":"Rh8","T":"1003 K","O":7,"N":3,"d":3},{"R":"Rh8","T":"1003 K","O":7,"N":4,"d":4},{"R":"Rh8","T":"1003 K","O":7,"N":5,"d":7},{"R":"Rh8","T":"1003 K","O":7,"N":6,"d":6},{"R":"Rh8","T":"1003 K","O":7,"N":7,"d":6},{"R":"Rh8","T":"1003 K","O":7,"N":8,"d":4},{"R":"Rh8","T":"1003 K","O":7,"N":9,"d":4},{"R":"Rh8","T":"1003 K","O":7,"N":10,"d":4},
{"R":"Rh8","T":"1003 K","O":6,"N":0,"d":5},{"R":"Rh8","T":"1003 K","O":6,"N":1,"d":11},{"R":"Rh8","T":"1003 K","O":6,"N":2,"d":4},{"R":"Rh8","T":"1003 K","O":6,"N":3,"d":4},{"R":"Rh8","T":"1003 K","O":6,"N":4,"d":5},{"R":"Rh8","T":"1003 K","O":6,"N":5,"d":4},{"R":"Rh8","T":"1003 K","O":6,"N":6,"d":7},{"R":"Rh8","T":"1003 K","O":6,"N":7,"d":10},{"R":"Rh8","T":"1003 K","O":6,"N":8,"d":3},{"R":"Rh8","T":"1003 K","O":6,"N":9,"d":4},{"R":"Rh8","T":"1003 K","O":6,"N":10,"d":5},
{"R":"Rh8","T":"1003 K","O":5,"N":0,"d":25},{"R":"Rh8","T":"1003 K","O":5,"N":1,"d":74},{"R":"Rh8","T":"1003 K","O":5,"N":2,"d":3},{"R":"Rh8","T":"1003 K","O":5,"N":3,"d":3},{"R":"Rh8","T":"1003 K","O":5,"N":4,"d":1},{"R":"Rh8","T":"1003 K","O":5,"N":5,"d":4},{"R":"Rh8","T":"1003 K","O":5,"N":6,"d":6},{"R":"Rh8","T":"1003 K","O":5,"N":7,"d":2},{"R":"Rh8","T":"1003 K","O":5,"N":8,"d":12},{"R":"Rh8","T":"1003 K","O":5,"N":9,"d":4},{"R":"Rh8","T":"1003 K","O":5,"N":10,"d":5},
{"R":"Rh8","T":"1003 K","O":4,"N":0,"d":44},{"R":"Rh8","T":"1003 K","O":4,"N":1,"d":31},{"R":"Rh8","T":"1003 K","O":4,"N":2,"d":100},{"R":"Rh8","T":"1003 K","O":4,"N":3,"d":9},{"R":"Rh8","T":"1003 K","O":4,"N":4,"d":5},{"R":"Rh8","T":"1003 K","O":4,"N":5,"d":5},{"R":"Rh8","T":"1003 K","O":4,"N":6,"d":1},{"R":"Rh8","T":"1003 K","O":4,"N":7,"d":6},{"R":"Rh8","T":"1003 K","O":4,"N":8,"d":1},{"R":"Rh8","T":"1003 K","O":4,"N":9,"d":7},{"R":"Rh8","T":"1003 K","O":4,"N":10,"d":6},
{"R":"Rh8","T":"1003 K","O":3,"N":0,"d":7},{"R":"Rh8","T":"1003 K","O":3,"N":1,"d":75},{"R":"Rh8","T":"1003 K","O":3,"N":2,"d":66},{"R":"Rh8","T":"1003 K","O":3,"N":3,"d":57},{"R":"Rh8","T":"1003 K","O":3,"N":4,"d":6},{"R":"Rh8","T":"1003 K","O":3,"N":5,"d":5},{"R":"Rh8","T":"1003 K","O":3,"N":6,"d":1},{"R":"Rh8","T":"1003 K","O":3,"N":7,"d":5},{"R":"Rh8","T":"1003 K","O":3,"N":8,"d":6},{"R":"Rh8","T":"1003 K","O":3,"N":9,"d":5},{"R":"Rh8","T":"1003 K","O":3,"N":10,"d":1},
{"R":"Rh8","T":"1003 K","O":2,"N":0,"d":5},{"R":"Rh8","T":"1003 K","O":2,"N":1,"d":7},{"R":"Rh8","T":"1003 K","O":2,"N":2,"d":18},{"R":"Rh8","T":"1003 K","O":2,"N":3,"d":37},{"R":"Rh8","T":"1003 K","O":2,"N":4,"d":6},{"R":"Rh8","T":"1003 K","O":2,"N":5,"d":4},{"R":"Rh8","T":"1003 K","O":2,"N":6,"d":4},{"R":"Rh8","T":"1003 K","O":2,"N":7,"d":5},{"R":"Rh8","T":"1003 K","O":2,"N":8,"d":5},{"R":"Rh8","T":"1003 K","O":2,"N":9,"d":5},{"R":"Rh8","T":"1003 K","O":2,"N":10,"d":3},
{"R":"Rh8","T":"1003 K","O":1,"N":0,"d":5},{"R":"Rh8","T":"1003 K","O":1,"N":1,"d":6},{"R":"Rh8","T":"1003 K","O":1,"N":2,"d":7},{"R":"Rh8","T":"1003 K","O":1,"N":3,"d":4},{"R":"Rh8","T":"1003 K","O":1,"N":4,"d":4},{"R":"Rh8","T":"1003 K","O":1,"N":5,"d":1},{"R":"Rh8","T":"1003 K","O":1,"N":6,"d":7},{"R":"Rh8","T":"1003 K","O":1,"N":7,"d":0},{"R":"Rh8","T":"1003 K","O":1,"N":8,"d":7},{"R":"Rh8","T":"1003 K","O":1,"N":9,"d":4},{"R":"Rh8","T":"1003 K","O":1,"N":10,"d":6},
{"R":"Rh8","T":"1003 K","O":0,"N":0,"d":7},{"R":"Rh8","T":"1003 K","O":0,"N":1,"d":1},{"R":"Rh8","T":"1003 K","O":0,"N":2,"d":3},{"R":"Rh8","T":"1003 K","O":0,"N":3,"d":3},{"R":"Rh8","T":"1003 K","O":0,"N":4,"d":4},{"R":"Rh8","T":"1003 K","O":0,"N":5,"d":4},{"R":"Rh8","T":"1003 K","O":0,"N":6,"d":4},{"R":"Rh8","T":"1003 K","O":0,"N":7,"d":6},{"R":"Rh8","T":"1003 K","O":0,"N":8,"d":4},{"R":"Rh8","T":"1003 K","O":0,"N":9,"d":3},{"R":"Rh8","T":"1003 K","O":0,"N":10,"d":3},
{"R":"Rh9","T":"1003 K","O":10,"N":0,"d":15},{"R":"Rh9","T":"1003 K","O":10,"N":1,"d":10},{"R":"Rh9","T":"1003 K","O":10,"N":2,"d":14},{"R":"Rh9","T":"1003 K","O":10,"N":3,"d":8},{"R":"Rh9","T":"1003 K","O":10,"N":4,"d":25},{"R":"Rh9","T":"1003 K","O":10,"N":5,"d":10},{"R":"Rh9","T":"1003 K","O":10,"N":6,"d":7},{"R":"Rh9","T":"1003 K","O":10,"N":7,"d":7},{"R":"Rh9","T":"1003 K","O":10,"N":8,"d":15},{"R":"Rh9","T":"1003 K","O":10,"N":9,"d":15},{"R":"Rh9","T":"1003 K","O":10,"N":10,"d":8},
{"R":"Rh9","T":"1003 K","O":9,"N":0,"d":5},{"R":"Rh9","T":"1003 K","O":9,"N":1,"d":16},{"R":"Rh9","T":"1003 K","O":9,"N":2,"d":4},{"R":"Rh9","T":"1003 K","O":9,"N":3,"d":10},{"R":"Rh9","T":"1003 K","O":9,"N":4,"d":16},{"R":"Rh9","T":"1003 K","O":9,"N":5,"d":15},{"R":"Rh9","T":"1003 K","O":9,"N":6,"d":0},{"R":"Rh9","T":"1003 K","O":9,"N":7,"d":11},{"R":"Rh9","T":"1003 K","O":9,"N":8,"d":9},{"R":"Rh9","T":"1003 K","O":9,"N":9,"d":19},{"R":"Rh9","T":"1003 K","O":9,"N":10,"d":11},
{"R":"Rh9","T":"1003 K","O":8,"N":0,"d":0},{"R":"Rh9","T":"1003 K","O":8,"N":1,"d":10},{"R":"Rh9","T":"1003 K","O":8,"N":2,"d":11},{"R":"Rh9","T":"1003 K","O":8,"N":3,"d":11},{"R":"Rh9","T":"1003 K","O":8,"N":4,"d":10},{"R":"Rh9","T":"1003 K","O":8,"N":5,"d":15},{"R":"Rh9","T":"1003 K","O":8,"N":6,"d":8},{"R":"Rh9","T":"1003 K","O":8,"N":7,"d":7},{"R":"Rh9","T":"1003 K","O":8,"N":8,"d":12},{"R":"Rh9","T":"1003 K","O":8,"N":9,"d":3},{"R":"Rh9","T":"1003 K","O":8,"N":10,"d":7},
{"R":"Rh9","T":"1003 K","O":7,"N":0,"d":10},{"R":"Rh9","T":"1003 K","O":7,"N":1,"d":10},{"R":"Rh9","T":"1003 K","O":7,"N":2,"d":7},{"R":"Rh9","T":"1003 K","O":7,"N":3,"d":15},{"R":"Rh9","T":"1003 K","O":7,"N":4,"d":5},{"R":"Rh9","T":"1003 K","O":7,"N":5,"d":18},{"R":"Rh9","T":"1003 K","O":7,"N":6,"d":8},{"R":"Rh9","T":"1003 K","O":7,"N":7,"d":15},{"R":"Rh9","T":"1003 K","O":7,"N":8,"d":14},{"R":"Rh9","T":"1003 K","O":7,"N":9,"d":20},{"R":"Rh9","T":"1003 K","O":7,"N":10,"d":22},
{"R":"Rh9","T":"1003 K","O":6,"N":0,"d":19},{"R":"Rh9","T":"1003 K","O":6,"N":1,"d":41},{"R":"Rh9","T":"1003 K","O":6,"N":2,"d":15},{"R":"Rh9","T":"1003 K","O":6,"N":3,"d":24},{"R":"Rh9","T":"1003 K","O":6,"N":4,"d":15},{"R":"Rh9","T":"1003 K","O":6,"N":5,"d":14},{"R":"Rh9","T":"1003 K","O":6,"N":6,"d":10},{"R":"Rh9","T":"1003 K","O":6,"N":7,"d":7},{"R":"Rh9","T":"1003 K","O":6,"N":8,"d":14},{"R":"Rh9","T":"1003 K","O":6,"N":9,"d":16},{"R":"Rh9","T":"1003 K","O":6,"N":10,"d":15},
{"R":"Rh9","T":"1003 K","O":5,"N":0,"d":26},{"R":"Rh9","T":"1003 K","O":5,"N":1,"d":24},{"R":"Rh9","T":"1003 K","O":5,"N":2,"d":19},{"R":"Rh9","T":"1003 K","O":5,"N":3,"d":15},{"R":"Rh9","T":"1003 K","O":5,"N":4,"d":12},{"R":"Rh9","T":"1003 K","O":5,"N":5,"d":15},{"R":"Rh9","T":"1003 K","O":5,"N":6,"d":12},{"R":"Rh9","T":"1003 K","O":5,"N":7,"d":16},{"R":"Rh9","T":"1003 K","O":5,"N":8,"d":12},{"R":"Rh9","T":"1003 K","O":5,"N":9,"d":10},{"R":"Rh9","T":"1003 K","O":5,"N":10,"d":7},
{"R":"Rh9","T":"1003 K","O":4,"N":0,"d":29},{"R":"Rh9","T":"1003 K","O":4,"N":1,"d":18},{"R":"Rh9","T":"1003 K","O":4,"N":2,"d":62},{"R":"Rh9","T":"1003 K","O":4,"N":3,"d":8},{"R":"Rh9","T":"1003 K","O":4,"N":4,"d":19},{"R":"Rh9","T":"1003 K","O":4,"N":5,"d":10},{"R":"Rh9","T":"1003 K","O":4,"N":6,"d":5},{"R":"Rh9","T":"1003 K","O":4,"N":7,"d":8},{"R":"Rh9","T":"1003 K","O":4,"N":8,"d":7},{"R":"Rh9","T":"1003 K","O":4,"N":9,"d":10},{"R":"Rh9","T":"1003 K","O":4,"N":10,"d":10},
{"R":"Rh9","T":"1003 K","O":3,"N":0,"d":16},{"R":"Rh9","T":"1003 K","O":3,"N":1,"d":18},{"R":"Rh9","T":"1003 K","O":3,"N":2,"d":19},{"R":"Rh9","T":"1003 K","O":3,"N":3,"d":100},{"R":"Rh9","T":"1003 K","O":3,"N":4,"d":22},{"R":"Rh9","T":"1003 K","O":3,"N":5,"d":8},{"R":"Rh9","T":"1003 K","O":3,"N":6,"d":20},{"R":"Rh9","T":"1003 K","O":3,"N":7,"d":14},{"R":"Rh9","T":"1003 K","O":3,"N":8,"d":12},{"R":"Rh9","T":"1003 K","O":3,"N":9,"d":11},{"R":"Rh9","T":"1003 K","O":3,"N":10,"d":15},
{"R":"Rh9","T":"1003 K","O":2,"N":0,"d":25},{"R":"Rh9","T":"1003 K","O":2,"N":1,"d":10},{"R":"Rh9","T":"1003 K","O":2,"N":2,"d":15},{"R":"Rh9","T":"1003 K","O":2,"N":3,"d":14},{"R":"Rh9","T":"1003 K","O":2,"N":4,"d":15},{"R":"Rh9","T":"1003 K","O":2,"N":5,"d":8},{"R":"Rh9","T":"1003 K","O":2,"N":6,"d":11},{"R":"Rh9","T":"1003 K","O":2,"N":7,"d":11},{"R":"Rh9","T":"1003 K","O":2,"N":8,"d":10},{"R":"Rh9","T":"1003 K","O":2,"N":9,"d":18},{"R":"Rh9","T":"1003 K","O":2,"N":10,"d":5},
{"R":"Rh9","T":"1003 K","O":1,"N":0,"d":10},{"R":"Rh9","T":"1003 K","O":1,"N":1,"d":10},{"R":"Rh9","T":"1003 K","O":1,"N":2,"d":11},{"R":"Rh9","T":"1003 K","O":1,"N":3,"d":11},{"R":"Rh9","T":"1003 K","O":1,"N":4,"d":16},{"R":"Rh9","T":"1003 K","O":1,"N":5,"d":14},{"R":"Rh9","T":"1003 K","O":1,"N":6,"d":18},{"R":"Rh9","T":"1003 K","O":1,"N":7,"d":14},{"R":"Rh9","T":"1003 K","O":1,"N":8,"d":4},{"R":"Rh9","T":"1003 K","O":1,"N":9,"d":9},{"R":"Rh9","T":"1003 K","O":1,"N":10,"d":11},
{"R":"Rh9","T":"1003 K","O":0,"N":0,"d":12},{"R":"Rh9","T":"1003 K","O":0,"N":1,"d":11},{"R":"Rh9","T":"1003 K","O":0,"N":2,"d":11},{"R":"Rh9","T":"1003 K","O":0,"N":3,"d":7},{"R":"Rh9","T":"1003 K","O":0,"N":4,"d":15},{"R":"Rh9","T":"1003 K","O":0,"N":5,"d":11},{"R":"Rh9","T":"1003 K","O":0,"N":6,"d":14},{"R":"Rh9","T":"1003 K","O":0,"N":7,"d":14},{"R":"Rh9","T":"1003 K","O":0,"N":8,"d":9},{"R":"Rh9","T":"1003 K","O":0,"N":9,"d":10},{"R":"Rh9","T":"1003 K","O":0,"N":10,"d":9},
{"R":"Rh6","T":"309 K","O":0,"N":10,"L":"Rh₆⁺, 309 K"},
{"R":"Rh7","T":"309 K","O":0,"N":10,"L":"Rh₇⁺, 309 K"},
{"R":"Rh8","T":"309 K","O":0,"N":10,"L":"Rh₈⁺, 309 K"},
{"R":"Rh9","T":"309 K","O":0,"N":10,"L":"Rh₉⁺, 309 K"},
{"R":"Rh6","T":"1003 K","O":0,"N":10,"L":"Rh₆⁺, 1003 K"},
{"R":"Rh7","T":"1003 K","O":0,"N":10,"L":"Rh₇⁺, 1003 K"},
{"R":"Rh8","T":"1003 K","O":0,"N":10,"L":"Rh₈⁺, 1003 K"},
{"R":"Rh9","T":"1003 K","O":0,"N":10,"L":"Rh₉⁺, 1003 K"}
]},
"facet":{
"row":{"field":"T","type":"nominal","sort":["309 K","1003 K"],"title":null,"header":{"labels":false,"title":null}},
"column":{"field":"R","type":"nominal","sort":["Rh6","Rh7","Rh8","Rh9"],"title":null,"header":{"title":null,"labelOrient":"bottom","labelExpr":"datum.value == 'Rh8' ? 'Number of N atoms' : ''","labelAnchor":"start","labelAlign":"center","labelFont":"Liberation Sans","labelFontSize":28.5,"labelColor":"#222","labelPadding":8}}
},
"spacing":{"row":7,"column":7.5},
"resolve":{"axis":{"x":"independent","y":"independent"}},
"spec":{
"width":262,"height":262,
"layer":[
{"transform":[{"filter":"!isValid(datum.L)"}],
"mark":{"type":"rect"},
"encoding":{
"x":{"field":"N","type":"ordinal","scale":{"domain":[0,1,2,3,4,5,6,7,8,9,10],"paddingInner":0,"paddingOuter":0},"axis":{"title":null,"labelAngle":0}},
"y":{"field":"O","type":"ordinal","scale":{"domain":[10,9,8,7,6,5,4,3,2,1,0],"paddingInner":0,"paddingOuter":0},"axis":{"title":null}},
"color":{"field":"d","type":"quantitative","scale":{"domain":[0,100],"range":["#ffffff","#000000"],"interpolate":"rgb"},"legend":null}
}},
{"transform":[{"filter":"isValid(datum.L)"}],
"mark":{"type":"text","align":"right","baseline":"alphabetic","font":"Liberation Sans","fontSize":26,"color":"#111"},
"encoding":{
"x":{"field":"N","type":"ordinal"},
"y":{"field":"O","type":"ordinal"},
"text":{"field":"L"}
}}
]
},
"config":{
"view":{"stroke":"#444","strokeWidth":1.3},
"axis":{"ticks":false,"domain":false,"grid":false,"labelFont":"Liberation Sans","labelFontSize":14,"labelColor":"#333","labelPadding":3}
}
}
